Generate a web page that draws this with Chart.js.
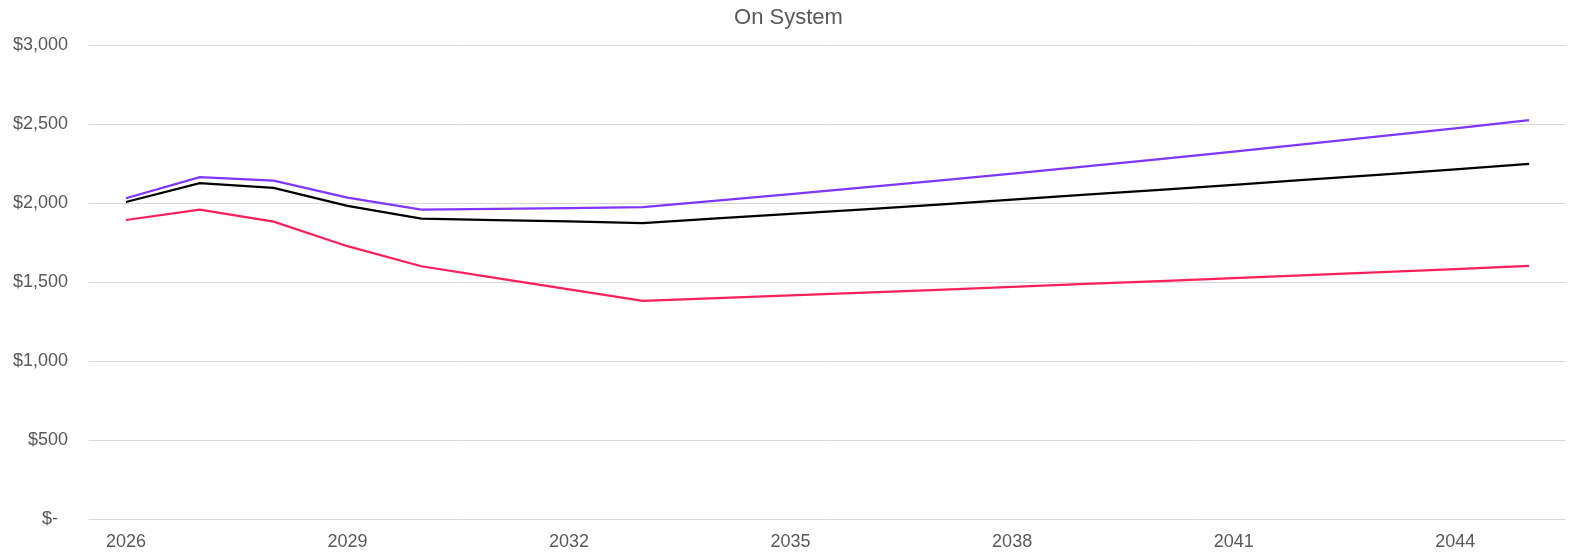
<!DOCTYPE html>
<html>
<head>
<meta charset="utf-8">
<script src="https://cdn.jsdelivr.net/npm/chart.js@4"></script>
<style>
  html, body { margin: 0; padding: 0; background: #fff; }
  #wrap { width: 1572px; height: 555px; }
</style>
</head>
<body>
<div id="wrap"><canvas id="grafico_on_system"></canvas></div>
<script>
// anos
const anos = ['2026', '2027', '2028', '2029', '2030', '2031', '2032', '2033', '2034', '2035',
  '2036', '2037', '2038', '2039', '2040', '2041', '2042', '2043', '2044', '2045'];

// series
const serie_roxa = [2032, 2165, 2143, 2036, 1960, 1965, 1970, 1975, 2016, 2058,
  2100, 2144, 2188, 2234, 2280, 2327, 2376, 2425, 2475, 2527];
const serie_preta = [2008, 2128, 2097, 1983, 1903, 1894, 1885, 1875, 1904, 1933,
  1962, 1992, 2023, 2054, 2085, 2117, 2149, 2182, 2215, 2249];
const serie_vermelha = [1894, 1960, 1884, 1728, 1601, 1528, 1455, 1382, 1399, 1417,
  1434, 1452, 1470, 1489, 1507, 1526, 1545, 1564, 1583, 1603];

const cor_texto = '#595959';

function formataDolar(v) {
  if (v === 0) return '$-  ';
  return '$' + v.toLocaleString('en-US');
}

const data_linhas = {
  labels: anos,
  datasets: [
    { label: 'High', data: serie_roxa, borderColor: '#8036ff', backgroundColor: '#8036ff' },
    { label: 'Base', data: serie_preta, borderColor: '#000000', backgroundColor: '#000000' },
    { label: 'Low', data: serie_vermelha, borderColor: '#ff1f5a', backgroundColor: '#ff1f5a' }
  ]
};

const config_linhas = {
  type: 'line',
  data: data_linhas,
  options: {
    responsive: true,
    maintainAspectRatio: false,
    animation: false,
    layout: { padding: { left: 11, right: 6, top: 0, bottom: 0 } },
    elements: {
      line: { borderWidth: 2.25, tension: 0 },
      point: { radius: 0 }
    },
    plugins: {
      legend: { display: false },
      tooltip: { enabled: false },
      title: {
        display: true,
        text: 'On System',
        color: cor_texto,
        font: { family: 'Liberation Sans', size: 22, weight: 'normal' },
        padding: { top: 5, bottom: 14 }
      }
    },
    scales: {
      x: {
        offset: true,
        grid: { display: false, drawTicks: false },
        border: { display: false },
        afterFit: (axis) => { axis.height = 36; },
        ticks: {
          color: cor_texto,
          font: { family: 'Liberation Sans', size: 18 },
          padding: 12,
          maxRotation: 0,
          autoSkip: false,
          callback: function (val, i) { return i % 3 === 0 ? anos[i] : ''; }
        }
      },
      y: {
        min: 0,
        max: 3000,
        grid: { color: '#d9d9d9', lineWidth: 1, drawTicks: false },
        border: { display: false },
        afterFit: (axis) => { axis.width = 78; },
        ticks: {
          stepSize: 500,
          color: cor_texto,
          font: { family: 'Liberation Sans', size: 18 },
          padding: 21,
          callback: formataDolar
        }
      }
    }
  }
};

const grafico_on_system = new Chart(
  document.getElementById('grafico_on_system'),
  config_linhas
);
</script>
</body>
</html>
